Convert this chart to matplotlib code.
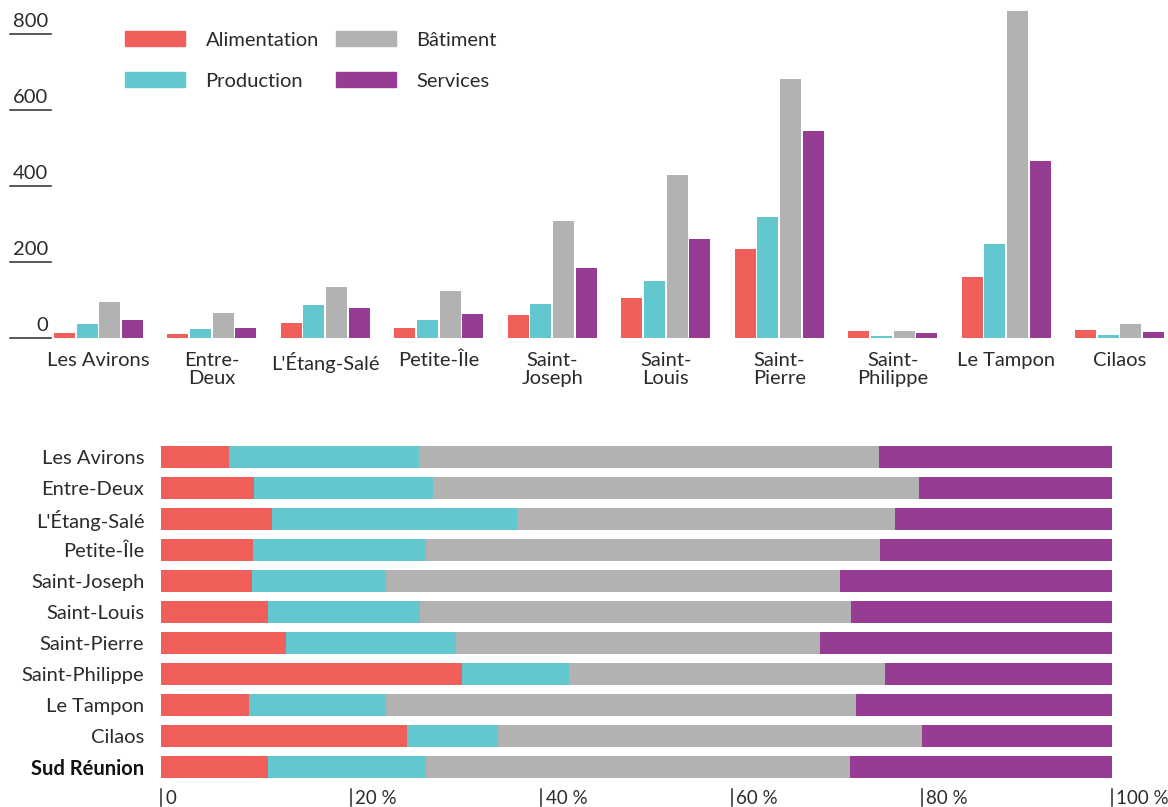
import matplotlib
matplotlib.use("Agg")
import matplotlib.pyplot as plt
import matplotlib.transforms as mtransforms
from matplotlib.lines import Line2D
from matplotlib.patches import Patch
import numpy as np

plt.rcParams['font.family'] = ['Lato', 'DejaVu Sans']

# --- data -------------------------------------------------------------
communes = ["Les Avirons", "Entre-\nDeux", "L'Étang-Salé", "Petite-Île", "Saint-\nJoseph",
            "Saint-\nLouis", "Saint-\nPierre", "Saint-\nPhilippe", "Le Tampon", "Cilaos"]
series = ["Alimentation", "Production", "Bâtiment", "Services"]

alimentation = [13, 11, 39, 26, 60, 106, 233, 18, 161, 21]
production = [37, 24, 87, 47, 90, 150, 317, 5, 248, 7]
batiment = [95, 67, 134, 124, 307, 428, 681, 19, 859, 38]
services = [47, 26, 79, 63, 184, 260, 545, 14, 465, 16]

yticks_top = [0, 200, 400, 600, 800]

rows = ["Les Avirons", "Entre-Deux", "L'Étang-Salé", "Petite-Île", "Saint-Joseph", "Saint-Louis",
        "Saint-Pierre", "Saint-Philippe", "Le Tampon", "Cilaos", "Sud Réunion"]
alim_pct = [7.1, 9.8, 11.7, 9.7, 9.6, 11.3, 13.1, 31.7, 9.3, 25.9, 11.3]
prod_pct = [20.0, 18.8, 25.7, 18.2, 14.1, 15.9, 17.9, 11.2, 14.4, 9.5, 16.6]
bat_pct = [48.4, 51.1, 39.8, 47.7, 47.7, 45.4, 38.3, 33.2, 49.4, 44.6, 44.6]
serv_pct = [24.5, 20.3, 22.8, 24.4, 28.6, 27.4, 30.7, 23.9, 26.9, 20.0, 27.5]

xticks_pct = [0, 20, 40, 60, 80, 100]
xtick_labels = ["0", "20 %", "40 %", "60 %", "80 %", "100 %"]

colors = ['#f05f5a', '#63c7d0', '#b2b2b2', '#963c93']
txt = '#2b2b2b'
fs = 14.5

W, H = 1168, 807
fig = plt.figure(figsize=(W / 100, H / 100), dpi=100)

# --- top: grouped bars -----------------------------------------------
ax1 = fig.add_axes([53 / W, 1 - 338 / H, (1165 - 53) / W, (338 - 5) / H])
x = np.arange(len(communes))
step, bw = 0.2, 0.185
for i, vals in enumerate([alimentation, production, batiment, services]):
    ax1.bar(x + (i - 1.5) * step, vals, width=bw, color=colors[i], label=series[i])
ax1.set_xlim(-0.4, 9.4)
ax1.set_ylim(0, 876)
for s in ax1.spines.values():
    s.set_visible(False)
ax1.set_yticks([])
ax1.set_xticks(x)
ax1.set_xticklabels(communes, fontsize=fs, color=txt, linespacing=1.1)
ax1.tick_params(axis='x', length=0, pad=10)

trans = mtransforms.blended_transform_factory(fig.transFigure, ax1.transData)
for v in yticks_top:
    fig.add_artist(Line2D([10 / W, 51 / W], [v, v], transform=trans, color=txt, lw=1.1))
    ax1.text(48 / W, v + 10, str(v), transform=trans, ha='right', va='bottom',
             fontsize=fs, color=txt)

fig.legend(handles=[Patch(color=c) for c in colors], labels=series, ncol=2,
           loc='upper left', bbox_to_anchor=(125 / W, 1 - 31 / H), frameon=False,
           fontsize=fs, handlelength=3.0, handleheight=0.8, labelspacing=1.15,
           handletextpad=1.0, columnspacing=0.85, borderpad=0, borderaxespad=0,
           labelcolor=txt)

# --- bottom: 100% stacked bars ----------------------------------------
ax2 = fig.add_axes([161 / W, 1 - 782.5 / H, (1112 - 161) / W, 341 / H])
y = np.arange(len(rows))
left = np.zeros(len(rows))
for i, vals in enumerate([alim_pct, prod_pct, bat_pct, serv_pct]):
    ax2.barh(y, vals, left=left, height=0.71, color=colors[i])
    left += np.array(vals)
ax2.set_xlim(0, 100)
ax2.set_ylim(10.5, -0.5)
for s in ax2.spines.values():
    s.set_visible(False)
ax2.set_xticks([])
ax2.set_yticks(y)
ax2.set_yticklabels(rows, fontsize=fs, color=txt)
ax2.get_yticklabels()[-1].set_fontweight('bold')
ax2.get_yticklabels()[-1].set_color('#111111')
ax2.tick_params(axis='y', length=0, pad=12)

trans2 = mtransforms.blended_transform_factory(ax2.transData, fig.transFigure)
for v, lab in zip(xticks_pct, xtick_labels):
    fig.add_artist(Line2D([v, v], [1 - 806 / H, 1 - 789 / H], transform=trans2, color=txt, lw=1.1))
    ax2.text(v + 0.45, 1 - 798 / H, lab, transform=trans2, ha='left', va='center',
             fontsize=13.5, color=txt)

fig.savefig("out.png", dpi=100)
